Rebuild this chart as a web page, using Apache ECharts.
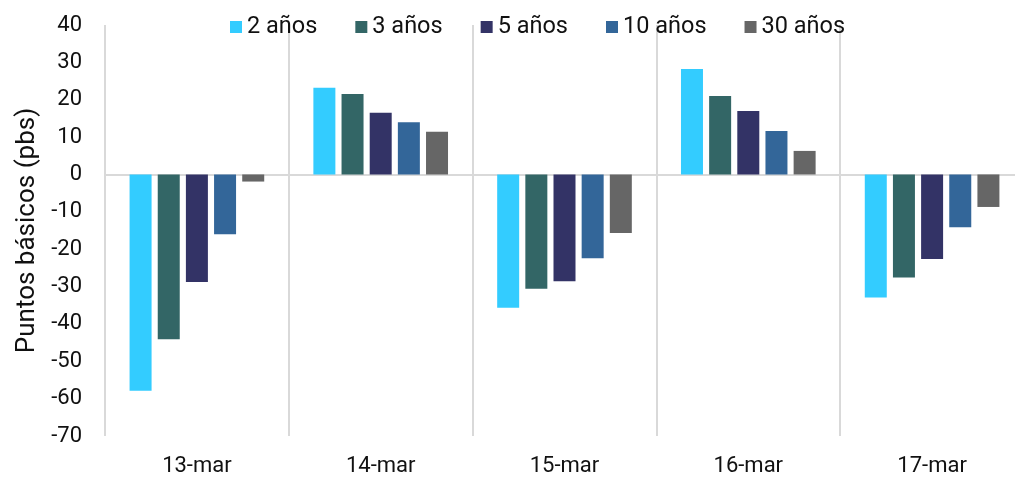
<!DOCTYPE html>
<html>
<head>
<meta charset="utf-8">
<script src="https://cdn.jsdelivr.net/npm/echarts@6/dist/echarts.min.js"></script>
<style>
html, body { margin: 0; padding: 0; background: #fff; }
#chart { width: 1015px; height: 477px; }
</style>
</head>
<body>
<div id="chart"></div>
<script>
var categories = ['13-mar', '14-mar', '15-mar', '16-mar', '17-mar'];
var seriesNames = ['2 años', '3 años', '5 años', '10 años', '30 años'];
var y2 = [-57.9, 23.2, -35.7, 28.2, -32.9];
var y3 = [-44.1, 21.5, -30.6, 21.0, -27.6];
var y5 = [-28.8, 16.5, -28.6, 17.0, -22.6];
var y10 = [-16.0, 14.0, -22.4, 11.6, -14.1];
var y30 = [-1.9, 11.4, -15.7, 6.3, -8.7];
var colors = ['#33CCFF', '#336666', '#333366', '#336699', '#666666'];

var chart = echarts.init(document.getElementById('chart'));
var allData = [y2, y3, y5, y10, y30];

var series = seriesNames.map(function (name, i) {
    return {
        name: name,
        type: 'bar',
        data: allData[i],
        barWidth: 22,
        barGap: '28%',
        itemStyle: { color: colors[i] }
    };
});

var option = {
    animation: false,
    textStyle: { fontFamily: 'Roboto' },
    color: colors,
    legend: {
        top: 15,
        left: 230,
        padding: 0,
        itemWidth: 12,
        itemHeight: 12,
        itemGap: 38,
        icon: 'rect',
        textStyle: { fontSize: 23.5, color: '#111', fontFamily: 'Roboto' },
        data: seriesNames
    },
    // el grid se sale un poco por la derecha, como en el original
    grid: { left: 105, width: 919, top: 25, bottom: 41, containLabel: false, outerBoundsMode: 'none' },
    xAxis: [{
        type: 'category',
        data: categories,
        position: 'bottom',
        axisLine: { show: false, onZero: false },
        axisTick: { show: false },
        axisLabel: { fontSize: 22, color: '#111', margin: 19 },
        splitLine: { show: true, lineStyle: { color: '#d9d9d9', width: 2 } }
    }, {
        type: 'category',
        data: categories,
        position: 'top',
        axisLine: { show: true, onZero: true, lineStyle: { color: '#d9d9d9', width: 2 } },
        axisTick: { show: false },
        axisLabel: { show: false }
    }],
    yAxis: {
        type: 'value',
        min: -70,
        max: 40,
        interval: 10,
        name: 'Puntos básicos (pbs)',
        nameLocation: 'middle',
        nameGap: 64,
        nameTextStyle: { fontSize: 26, color: '#111' },
        axisLine: { show: false },
        axisTick: { show: false },
        splitLine: { show: false },
        axisLabel: { fontSize: 22, color: '#111', margin: 23 }
    },
    series: series
};

chart.setOption(option);
</script>
</body>
</html>
